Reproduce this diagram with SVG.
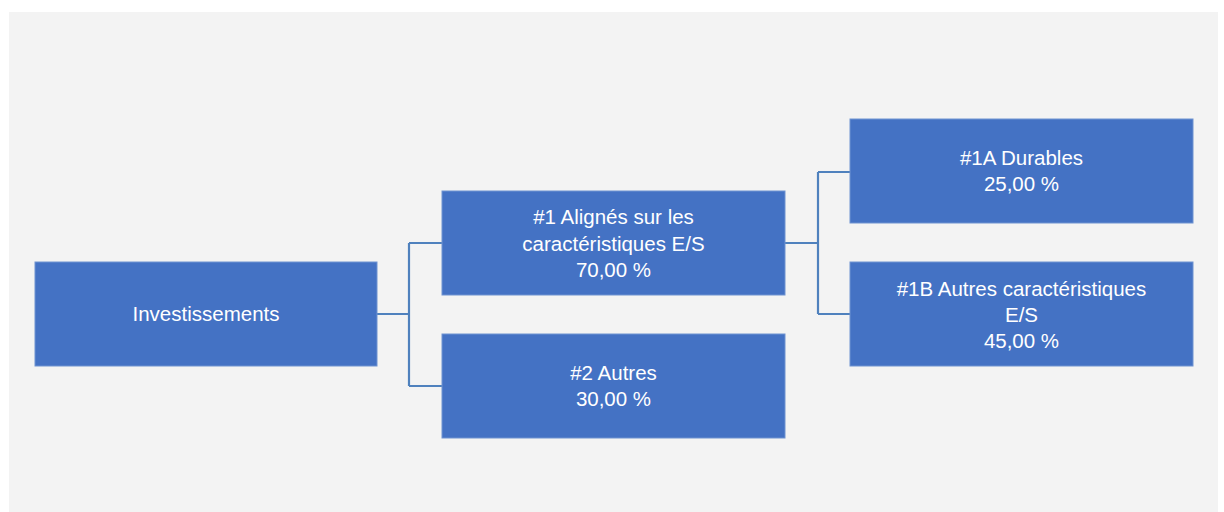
<svg xmlns="http://www.w3.org/2000/svg" width="1224" height="512" viewBox="0 0 1224 512">
<style>
.box{fill:#4472c4;stroke:#6f93d1;stroke-width:1}
.t{font-family:"Liberation Sans",Arial,sans-serif;font-size:20.5px;fill:#ffffff;text-anchor:middle}
.c{fill:none;stroke:#4f81bd;stroke-width:2.2}
</style>
<rect x="0" y="0" width="1224" height="512" fill="#ffffff"/>
<rect x="9" y="12" width="1209" height="500" fill="#f3f3f3"/>
<g id="connectors">
<path class="c" d="M377,314 H409 M409,243 V386 M409,243 H442 M409,386 H442"/>
<path class="c" d="M785,243 H818 M818,172 V314 M818,172 H850 M818,314 H850"/>
</g>
<g id="n-invest">
<rect class="box" x="35" y="262" width="342" height="104"/>
<text class="t" x="206" y="321">Investissements</text>
</g>
<g id="n-1">
<rect class="box" x="442" y="191" width="343" height="104"/>
<text class="t" x="613.5" y="224">#1 Alignés sur les</text>
<text class="t" x="613.5" y="251">caractéristiques E/S</text>
<text class="t" x="613.5" y="277">70,00 %</text>
</g>
<g id="n-2">
<rect class="box" x="442" y="334" width="343" height="104"/>
<text class="t" x="613.5" y="380">#2 Autres</text>
<text class="t" x="613.5" y="406">30,00 %</text>
</g>
<g id="n-1a">
<rect class="box" x="850" y="119" width="343" height="104"/>
<text class="t" x="1021.5" y="165">#1A Durables</text>
<text class="t" x="1021.5" y="191">25,00 %</text>
</g>
<g id="n-1b">
<rect class="box" x="850" y="262" width="343" height="104"/>
<text class="t" x="1021.5" y="296">#1B Autres caractéristiques</text>
<text class="t" x="1021.5" y="322">E/S</text>
<text class="t" x="1021.5" y="348">45,00 %</text>
</g>
</svg>
